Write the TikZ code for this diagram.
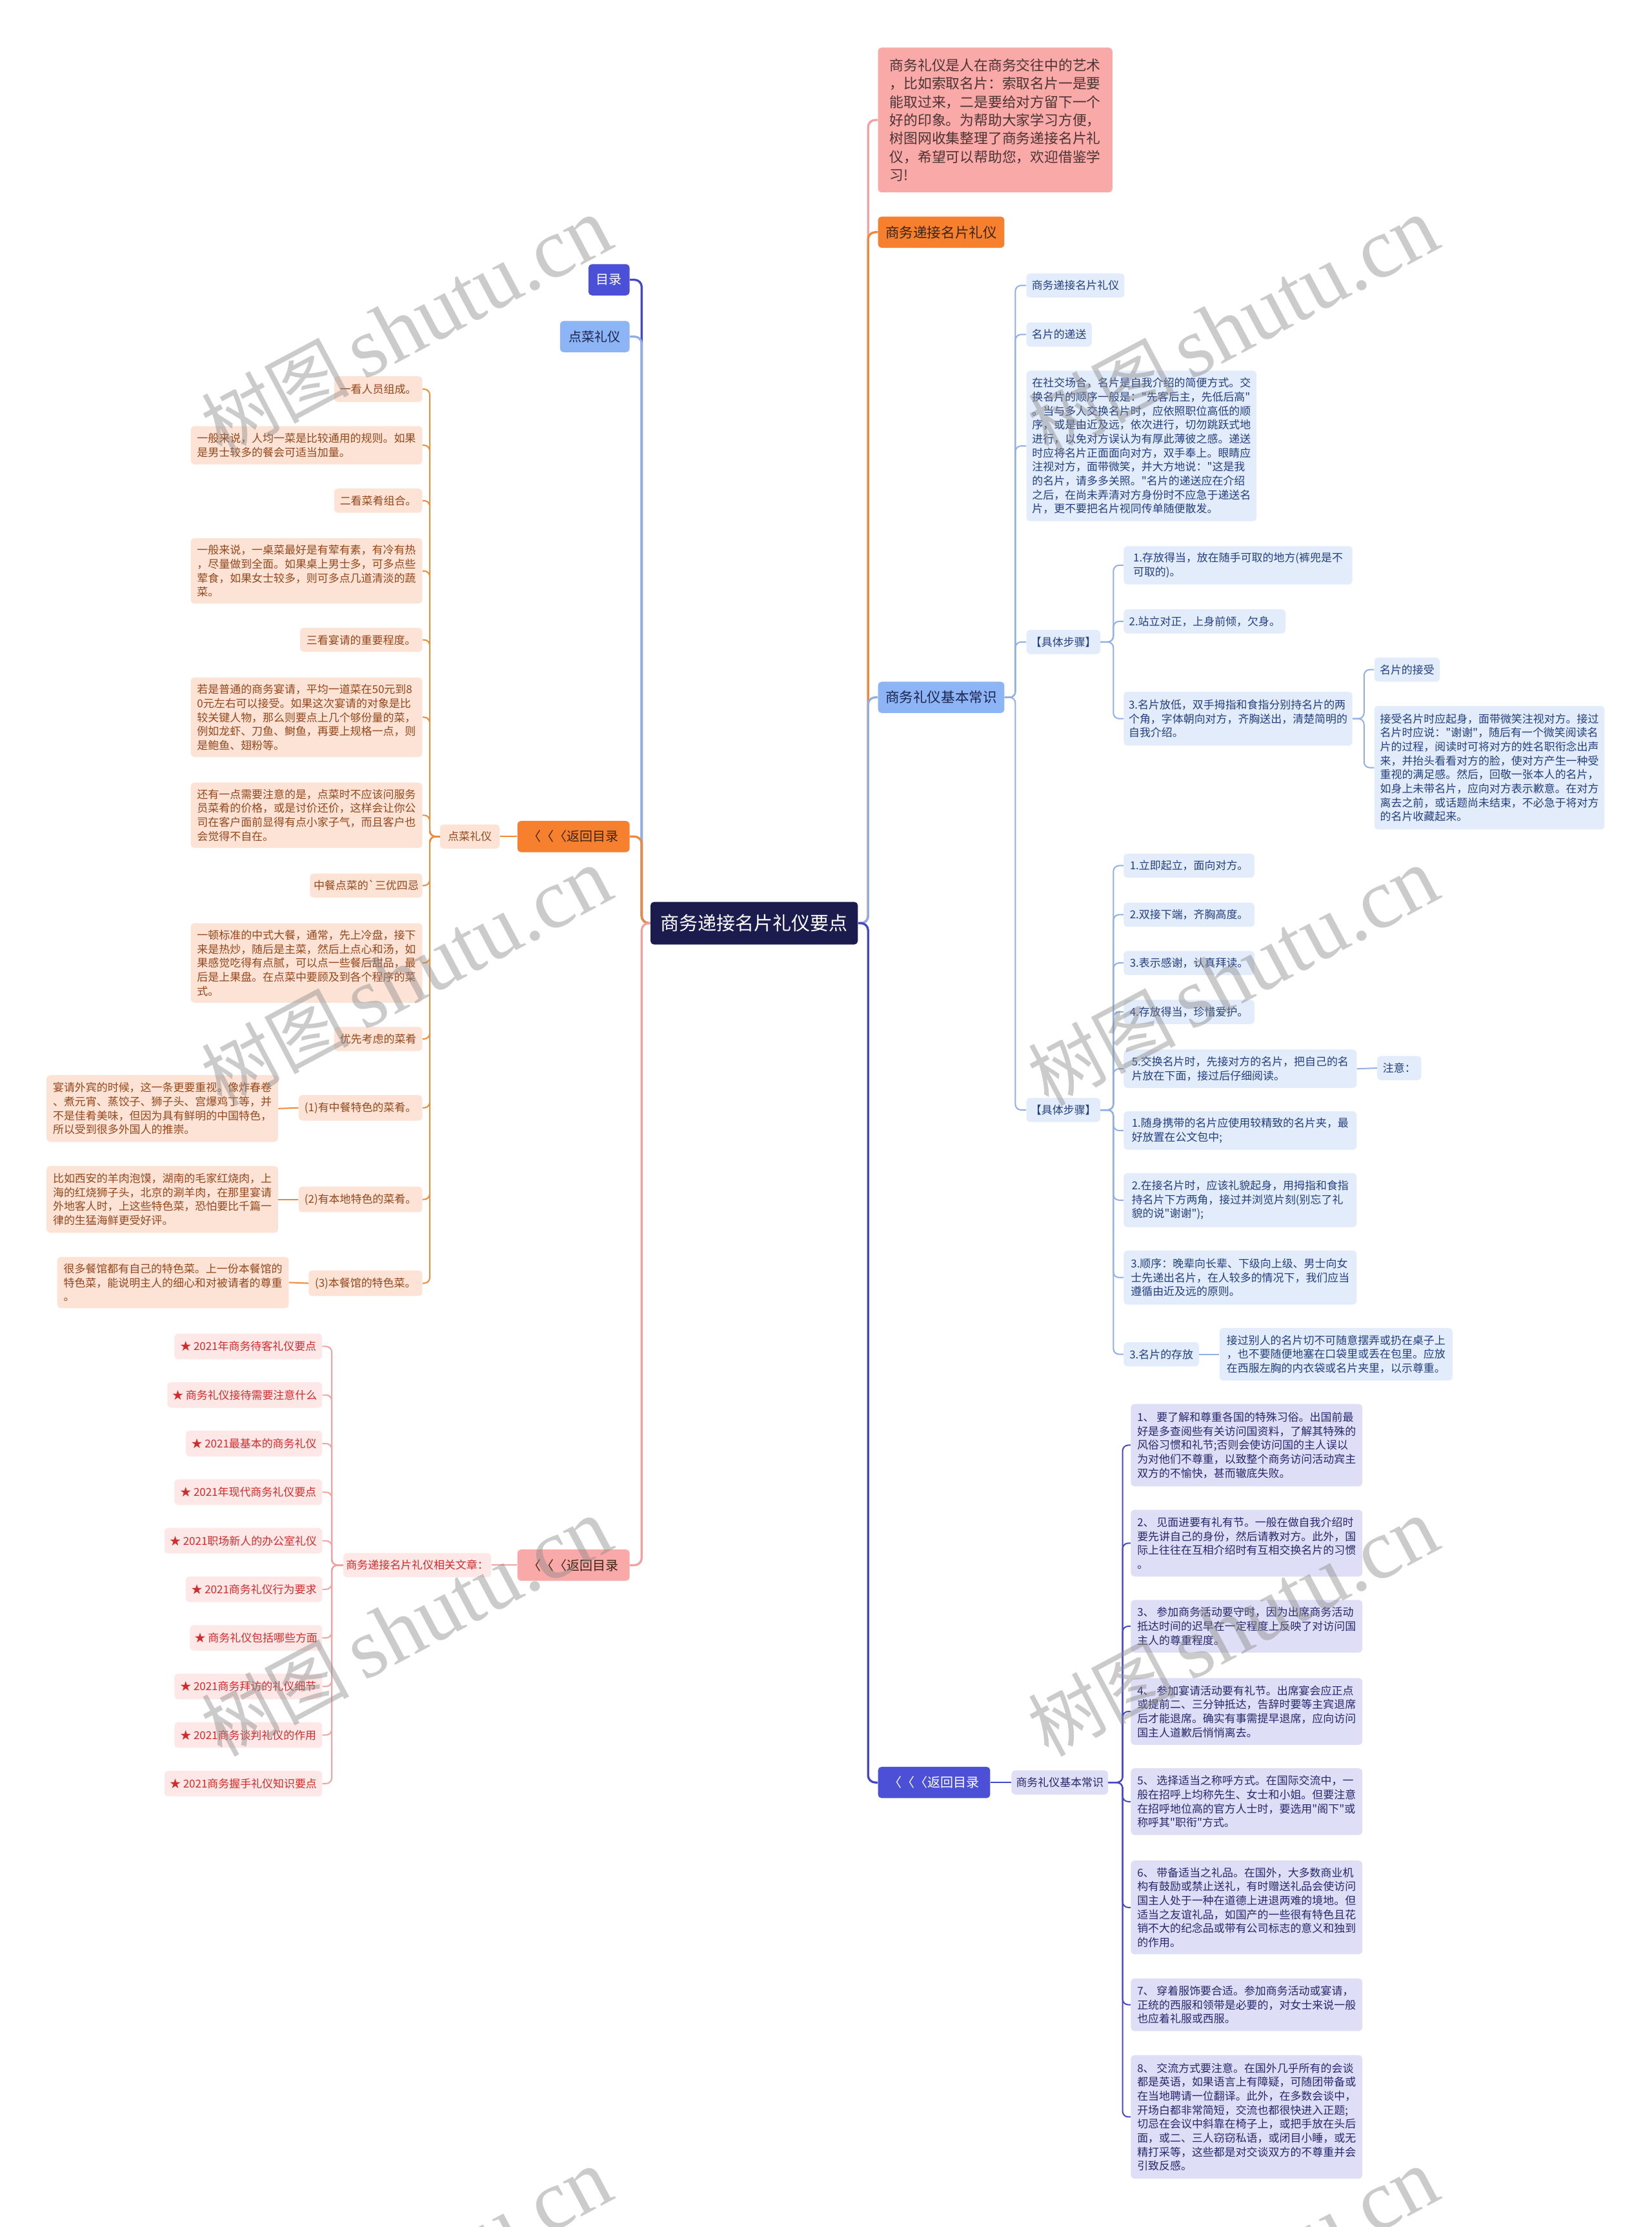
\documentclass[tikz,border=0pt]{standalone}
\usepackage{fontspec}
\setmainfont{Noto Sans CJK SC}[Ligatures=TeXOff]
\newfontfamily\wmserif{Liberation Serif}
\definecolor{cnavy}{HTML}{1C1B4E}
\definecolor{cindigo}{HTML}{4B50D6}
\definecolor{clblue}{HTML}{8DB4F5}
\definecolor{corange}{HTML}{F7802F}
\definecolor{cpink}{HTML}{F9A9A7}
\definecolor{pbfill}{HTML}{E3ECFB}
\definecolor{pbtext}{HTML}{233F7E}
\definecolor{lvfill}{HTML}{DEDFF7}
\definecolor{lvtext}{HTML}{27276B}
\definecolor{pcfill}{HTML}{FDE3D5}
\definecolor{pctext}{HTML}{94471C}
\definecolor{pkfill}{HTML}{FDE7E7}
\definecolor{pktext}{HTML}{D22B2B}
\definecolor{lnblue}{HTML}{8FAFE6}
\definecolor{lnindigo}{HTML}{4448C8}
\definecolor{lnorange}{HTML}{F08838}
\definecolor{lnpink}{HTML}{F2A0A0}
\definecolor{introtext}{HTML}{4A3434}
\definecolor{dkbrown}{HTML}{3A2414}
\definecolor{dknavy}{HTML}{1B2550}
\newcommand\mfs{\fontsize{7.7}{9.85}\selectfont}
\newcommand\mfl{\fontsize{9.8}{12}\selectfont}
\newcommand\mfi{\fontsize{9.9}{12.9}\selectfont}
\newcommand\mfc{\fontsize{13.2}{15}\selectfont}
\newcommand\mfr{\fontsize{9.1}{11}\selectfont}
\tikzset{
 bx/.style={rounded corners=2.5pt, inner sep=0pt, align=left},
 rs/.style={bx, anchor=west},
 ls/.style={bx, anchor=east},
 pb/.style={fill=pbfill, text=pbtext, font=\mfs},
 lv/.style={fill=lvfill, text=lvtext, font=\mfs},
 pc/.style={fill=pcfill, text=pctext, font=\mfs},
 pk/.style={fill=pkfill, text=pktext, font=\mfs},
 ln/.style={rounded corners=4pt, line width=0.9pt},
 lnL/.style={rounded corners=5pt, line width=1.5pt},
 sz/.style 2 args={minimum width=#1pt, minimum height=#2pt},
 wmk/.style={text=black!45, text opacity=0.45, rotate=28, inner sep=0pt},
}
\begin{document}
\begin{tikzpicture}[x=1pt, y=-1pt]
\useasboundingbox (0,0) rectangle (1163,1568);
\fill[white] (0,0) rectangle (1163,1568);

% central
\node[bx, fill=cnavy, text=white, font=\mfc, sz={146}{30}, anchor=center] (C) at (531,650) {商务递接名片礼仪要点};

% right level 1
\node[rs, fill=cpink, text=introtext, font=\mfi, sz={165}{102}] (I) at (618,84.5) {商务礼仪是人在商务交往中的艺术\\，比如索取名片：索取名片一是要\\能取过来，二是要给对方留下一个\\好的印象。为帮助大家学习方便，\\树图网收集整理了商务递接名片礼\\仪，希望可以帮助您，欢迎借鉴学\\习!};
\node[rs, fill=corange, text=dkbrown, font=\mfl, sz={89}{22}] (A1) at (618,163.5) {商务递接名片礼仪};
\node[rs, fill=clblue, text=dknavy, font=\mfl, sz={89}{22}] (A2) at (618,491) {商务礼仪基本常识};
\node[rs, fill=cindigo, text=white, font=\mfr, sz={79}{22}] (A3) at (618,1255) {〈〈〈返回目录};

% left level 1
\node[ls, fill=cindigo, text=white, font=\mfr, sz={29}{22}] (B1) at (443.5,197) {目录};
\node[ls, fill=clblue, text=dknavy, font=\mfr, sz={49}{22}] (B2) at (443.5,237) {点菜礼仪};
\node[ls, fill=corange, text=dkbrown, font=\mfr, sz={79}{22}] (B3) at (443.5,589) {〈〈〈返回目录};
\node[ls, fill=cpink, text=dkbrown, font=\mfr, sz={79}{22}] (B4) at (443.5,1102) {〈〈〈返回目录};

\draw[lnL, lnpink] (C.east) -- ++(7,0) |- (I.west);
\draw[lnL, lnorange] (C.east) -- ++(7,0) |- (A1.west);
\draw[lnL, lnblue] (C.east) -- ++(7,0) |- (A2.west);
\draw[lnL, lnindigo] (C.east) -- ++(7,0) |- (A3.west);
\draw[lnL, lnindigo] (C.west) -- ++(-6,0) |- (B1.east);
\draw[lnL, lnblue] (C.west) -- ++(-6,0) |- (B2.east);
\draw[lnL, lnorange] (C.west) -- ++(-6,0) |- (B3.east);
\draw[lnL, lnpink] (C.west) -- ++(-6,0) |- (B4.east);

% right: 商务礼仪基本常识 subtree
\node[rs, pb, sz={69}{17}] (b1) at (722.5,201) {商务递接名片礼仪};
\node[rs, pb, sz={46}{17}] (b2) at (722.5,235.5) {名片的递送};
\node[rs, pb, sz={162}{106}] (b3) at (722.5,314) {在社交场合，名片是自我介绍的简便方式。交\\换名片的顺序一般是："先客后主，先低后高"\\。当与多人交换名片时，应依照职位高低的顺\\序，或是由近及远，依次进行，切勿跳跃式地\\进行，以免对方误认为有厚此薄彼之感。递送\\时应将名片正面面向对方，双手奉上。眼睛应\\注视对方，面带微笑，并大方地说："这是我\\的名片，请多多关照。"名片的递送应在介绍\\之后，在尚未弄清对方身份时不应急于递送名\\片，更不要把名片视同传单随便散发。};
\node[rs, pb, sz={52}{17}] (b4) at (722.5,452) {【具体步骤】};
\node[rs, pb, sz={52}{17}] (b5) at (722.5,781.5) {【具体步骤】};
\foreach \n in {b1,b2,b3,b4,b5} \draw[ln, lnblue] (A2.east) -- ++(7.5,0) |- (\n.west);

\node[rs, pb, sz={161}{27}] (s1) at (791,398) {1.存放得当，放在随手可取的地方(裤兜是不\\可取的)。};
\node[rs, pb, sz={114}{17}] (s2) at (791,437.5) {2.站立对正，上身前倾，欠身。};
\node[rs, pb, sz={161}{38}] (s3) at (791,506) {3.名片放低，双手拇指和食指分别持名片的两\\个角，字体朝向对方，齐胸送出，清楚简明的\\自我介绍。};
\foreach \n in {s1,s2,s3} \draw[ln, lnblue] (b4.east) -- ++(9,0) |- (\n.west);
\node[rs, pb, sz={46}{17}] (s3a) at (967.5,471.5) {名片的接受};
\node[rs, pb, sz={162}{87}] (s3b) at (967.5,540.5) {接受名片时应起身，面带微笑注视对方。接过\\名片时应说："谢谢"，随后有一个微笑阅读名\\片的过程，阅读时可将对方的姓名职衔念出声\\来，并抬头看看对方的脸，使对方产生一种受\\重视的满足感。然后，回敬一张本人的名片，\\如身上未带名片，应向对方表示歉意。在对方\\离去之前，或话题尚未结束，不必急于将对方\\的名片收藏起来。};
\foreach \n in {s3a,s3b} \draw[ln, lnblue] (s3.east) -- ++(8,0) |- (\n.west);

\node[rs, pb, sz={92}{17}] (t1) at (791,609.5) {1.立即起立，面向对方。};
\node[rs, pb, sz={92}{17}] (t2) at (791,644) {2.双接下端，齐胸高度。};
\node[rs, pb, sz={92}{17}] (t3) at (791,678) {3.表示感谢，认真拜读。};
\node[rs, pb, sz={92}{17}] (t4) at (791,712.5) {4.存放得当，珍惜爱护。};
\node[rs, pb, sz={164}{27}] (t5) at (791,752.5) {5.交换名片时，先接对方的名片，把自己的名\\片放在下面，接过后仔细阅读。};
\node[rs, pb, sz={164}{27}] (t6) at (791,796) {1.随身携带的名片应使用较精致的名片夹，最\\好放置在公文包中;};
\node[rs, pb, sz={164}{38}] (t7) at (791,845) {2.在接名片时，应该礼貌起身，用拇指和食指\\持名片下方两角，接过并浏览片刻(别忘了礼\\貌的说"谢谢");};
\node[rs, pb, sz={164}{38}] (t8) at (791,899.5) {3.顺序：晚辈向长辈、下级向上级、男士向女\\士先递出名片，在人较多的情况下，我们应当\\遵循由近及远的原则。};
\node[rs, pb, sz={53}{17}] (t9) at (791,953.5) {3.名片的存放};
\foreach \n in {t1,t2,t3,t4,t5,t6,t7,t8,t9} \draw[ln, lnblue] (b5.east) -- ++(9,0) |- (\n.west);
\node[rs, pb, sz={31}{17}] (t5a) at (969.5,752) {注意：};
\draw[ln, lnblue] (t5.east) -- (t5a.west);
\node[rs, pb, sz={164}{37}] (t9a) at (858.5,953.5) {接过别人的名片切不可随意摆弄或扔在桌子上\\，也不要随便地塞在口袋里或丢在包里。应放\\在西服左胸的内衣袋或名片夹里，以示尊重。};
\draw[ln, lnblue] (t9.east) -- (t9a.west);

% right bottom: lavender
\node[rs, lv, sz={68}{17}] (m0) at (712,1255) {商务礼仪基本常识};
\draw[ln, lnindigo] (A3.east) -- (m0.west);
\node[rs, lv, sz={163}{58}] (m1) at (796,1017.5) {1、 要了解和尊重各国的特殊习俗。出国前最\\好是多查阅些有关访问国资料，了解其特殊的\\风俗习惯和礼节;否则会使访问国的主人误以\\为对他们不尊重，以致整个商务访问活动宾主\\双方的不愉快，甚而辙底失败。};
\node[rs, lv, sz={163}{47}] (m2) at (796,1086.5) {2、 见面进要有礼有节。一般在做自我介绍时\\要先讲自己的身份，然后请教对方。此外，国\\际上往往在互相介绍时有互相交换名片的习惯\\。};
\node[rs, lv, sz={163}{37}] (m3) at (796,1145) {3、 参加商务活动要守时，因为出席商务活动\\抵达时间的迟早在一定程度上反映了对访问国\\主人的尊重程度。};
\node[rs, lv, sz={163}{47}] (m4) at (796,1205) {4、 参加宴请活动要有礼节。出席宴会应正点\\或提前二、三分钟抵达，告辞时要等主宾退席\\后才能退席。确实有事需提早退席，应向访问\\国主人道歉后悄悄离去。};
\node[rs, lv, sz={163}{47}] (m5) at (796,1268.5) {5、 选择适当之称呼方式。在国际交流中，一\\般在招呼上均称先生、女士和小姐。但要注意\\在招呼地位高的官方人士时，要选用"阁下"或\\称呼其"职衔"方式。};
\node[rs, lv, sz={163}{66}] (m6) at (796,1343) {6、 带备适当之礼品。在国外，大多数商业机\\构有鼓励或禁止送礼，有时赠送礼品会使访问\\国主人处于一种在道德上进退两难的境地。但\\适当之友谊礼品，如国产的一些很有特色且花\\销不大的纪念品或带有公司标志的意义和独到\\的作用。};
\node[rs, lv, sz={163}{37}] (m7) at (796,1411.5) {7、 穿着服饰要合适。参加商务活动或宴请，\\正统的西服和领带是必要的，对女士来说一般\\也应着礼服或西服。};
\node[rs, lv, sz={163}{87}] (m8) at (796,1490.5) {8、 交流方式要注意。在国外几乎所有的会谈\\都是英语，如果语言上有障疑，可随团带备或\\在当地聘请一位翻译。此外，在多数会谈中，\\开场白都非常简短，交流也都很快进入正题;\\切忌在会议中斜靠在椅子上，或把手放在头后\\面，或二、三人窃窃私语，或闭目小睡，或无\\精打采等，这些都是对交谈双方的不尊重并会\\引致反感。};
\foreach \n in {m1,m2,m3,m4,m5,m6,m7,m8} \draw[ln, lnindigo] (m0.east) -- ++(10,0) |- (\n.west);

% left: 点菜礼仪 subtree
\node[ls, pc, sz={42}{17}] (D) at (352,589) {点菜礼仪};
\draw[ln, lnorange] (B3.west) -- (D.east);
\node[ls, pc, sz={62}{18}] (p1) at (297.5,274) {一看人员组成。};
\node[ls, pc, sz={163}{27}] (p2) at (297.5,313.5) {一般来说，人均一菜是比较通用的规则。如果\\是男士较多的餐会可适当加量。};
\node[ls, pc, sz={62}{17}] (p3) at (297.5,352.5) {二看菜肴组合。};
\node[ls, pc, sz={163}{46}] (p4) at (297.5,402) {一般来说，一桌菜最好是有荤有素，有冷有热\\，尽量做到全面。如果桌上男士多，可多点些\\荤食，如果女士较多，则可多点几道清淡的蔬\\菜。};
\node[ls, pc, sz={86}{17}] (p5) at (297.5,450.5) {三看宴请的重要程度。};
\node[ls, pc, sz={163}{56}] (p6) at (297.5,505) {若是普通的商务宴请，平均一道菜在50元到8\\0元左右可以接受。如果这次宴请的对象是比\\较关键人物，那么则要点上几个够份量的菜，\\例如龙虾、刀鱼、鲥鱼，再要上规格一点，则\\是鲍鱼、翅粉等。};
\node[ls, pc, sz={163}{46}] (p7) at (297.5,574) {还有一点需要注意的是，点菜时不应该问服务\\员菜肴的价格，或是讨价还价，这样会让你公\\司在客户面前显得有点小家子气，而且客户也\\会觉得不自在。};
\node[ls, pc, sz={79}{17}] (p8) at (297.5,623.5) {中餐点菜的`三优四忌};
\node[ls, pc, sz={163}{56}] (p9) at (297.5,678) {一顿标准的中式大餐，通常，先上冷盘，接下\\来是热炒，随后是主菜，然后上点心和汤，如\\果感觉吃得有点腻，可以点一些餐后甜品，最\\后是上果盘。在点菜中要顾及到各个程序的菜\\式。};
\node[ls, pc, sz={62}{17}] (p10) at (297.5,731.5) {优先考虑的菜肴};
\node[ls, pc, sz={87}{18}] (p11) at (297.5,780) {(1)有中餐特色的菜肴。};
\node[ls, pc, sz={87}{18}] (p12) at (297.5,844.5) {(2)有本地特色的菜肴。};
\node[ls, pc, sz={80}{18}] (p13) at (297.5,903.5) {(3)本餐馆的特色菜。};
\foreach \n in {p1,p2,p3,p4,p5,p6,p7,p8,p9,p10,p11,p12,p13} \draw[ln, lnorange] (D.west) -- ++(-7,0) |- (\n.east);
\node[ls, pc, sz={163}{47}] (p11c) at (196,780.5) {宴请外宾的时候，这一条更要重视。像炸春卷\\、煮元宵、蒸饺子、狮子头、宫爆鸡丁等，并\\不是佳肴美味，但因为具有鲜明的中国特色，\\所以受到很多外国人的推崇。};
\node[ls, pc, sz={163}{47}] (p12c) at (196,844.5) {比如西安的羊肉泡馍，湖南的毛家红烧肉，上\\海的红烧狮子头，北京的涮羊肉，在那里宴请\\外地客人时，上这些特色菜，恐怕要比千篇一\\律的生猛海鲜更受好评。};
\node[ls, pc, sz={163}{36}] (p13c) at (203.5,903) {很多餐馆都有自己的特色菜。上一份本餐馆的\\特色菜，能说明主人的细心和对被请者的尊重\\。};
\draw[ln, lnorange] (p11.west) -- (p11c.east);
\draw[ln, lnorange] (p12.west) -- (p12c.east);
\draw[ln, lnorange] (p13.west) -- (p13c.east);

% left bottom: related articles
\node[ls, pk, sz={104}{17}] (E) at (346,1102) {商务递接名片礼仪相关文章：};
\draw[ln, lnpink] (B4.west) -- (E.east);
\node[ls, pk, sz={104}{18}] (q1) at (227,948) {★ 2021年商务待客礼仪要点};
\node[ls, pk, sz={109}{18}] (q2) at (227,982.2) {★ 商务礼仪接待需要注意什么};
\node[ls, pk, sz={96}{18}] (q3) at (227,1016.4) {★ 2021最基本的商务礼仪};
\node[ls, pk, sz={104}{18}] (q4) at (227,1050.6) {★ 2021年现代商务礼仪要点};
\node[ls, pk, sz={111}{18}] (q5) at (227,1084.8) {★ 2021职场新人的办公室礼仪};
\node[ls, pk, sz={96}{18}] (q6) at (227,1119) {★ 2021商务礼仪行为要求};
\node[ls, pk, sz={93}{18}] (q7) at (227,1153.2) {★ 商务礼仪包括哪些方面};
\node[ls, pk, sz={104}{18}] (q8) at (227,1187.4) {★ 2021商务拜访的礼仪细节};
\node[ls, pk, sz={104}{18}] (q9) at (227,1221.6) {★ 2021商务谈判礼仪的作用};
\node[ls, pk, sz={111}{18}] (q10) at (227,1255.8) {★ 2021商务握手礼仪知识要点};
\foreach \n in {q1,q2,q3,q4,q5,q6,q7,q8,q9,q10} \draw[ln, lnpink] (E.west) -- ++(-8,0) |- (\n.east);

% watermarks
\foreach \x/\y [count=\i] in {286/230, 868/230, 286/688, 868/688, 286/1146, 868/1146, 286/1604, 868/1604}
  \node[wmk] (wm\i) at (\x,\y) {{\fontsize{52}{52}\selectfont 树图}\hspace{10pt}{\wmserif\fontsize{60}{60}\selectfont shutu.cn}};
\end{tikzpicture}
\end{document}
